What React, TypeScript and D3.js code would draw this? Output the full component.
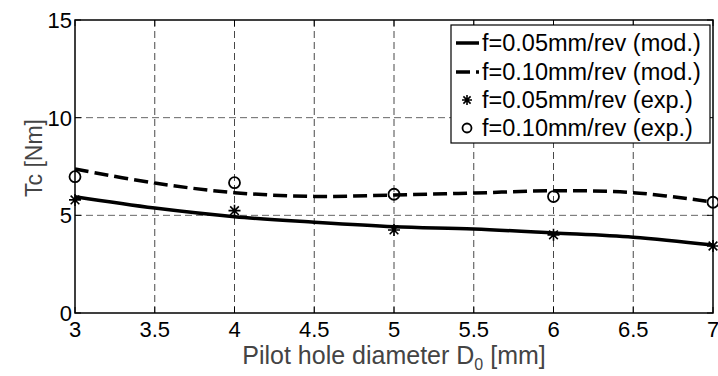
import React, { useEffect, useRef } from 'react';
import * as d3 from 'd3';

// pilot hole diameter (mm)
const modelX = [3, 3.5, 4, 4.5, 5, 5.5, 6, 6.5, 7];
const modF005 = [5.95, 5.37, 4.93, 4.65, 4.42, 4.3, 4.1, 3.88, 3.48];
const modF010 = [7.37, 6.65, 6.16, 5.97, 6.04, 6.14, 6.26, 6.16, 5.68];

const expX = [3, 4, 5, 6, 7];
const expF005 = [5.79, 5.24, 4.25, 4.0, 3.43];
const expF010 = [6.98, 6.67, 6.08, 5.96, 5.67];

const xTicks = [3, 3.5, 4, 4.5, 5, 5.5, 6, 6.5, 7];
const yTicks = [0, 5, 10, 15];

const legendLabels = [
  'f=0.05mm/rev (mod.)',
  'f=0.10mm/rev (mod.)',
  'f=0.05mm/rev (exp.)',
  'f=0.10mm/rev (exp.)',
];

const FONT = '"Liberation Sans", Arial, sans-serif';

const App = () => {
  const svgRef = useRef<SVGSVGElement | null>(null);

  useEffect(() => {
    const width = 718;
    const height = 376;
    const margin = { top: 20, right: 5, bottom: 63, left: 75 };

    const svg = d3.select(svgRef.current);
    svg.selectAll('*').remove();

    const x = d3.scaleLinear().domain([3, 7]).range([margin.left, width - margin.right]);
    const y = d3.scaleLinear().domain([0, 15]).range([height - margin.bottom, margin.top]);

    const g = svg.append('g');

    // grid
    g.selectAll('.vgrid')
      .data(xTicks.slice(1, -1))
      .enter()
      .append('line')
      .attr('x1', d => x(d))
      .attr('x2', d => x(d))
      .attr('y1', y(0))
      .attr('y2', y(15))
      .attr('stroke', '#333')
      .attr('stroke-width', 0.9)
      .attr('stroke-dasharray', '7,4');

    g.selectAll('.hgrid')
      .data(yTicks.slice(1, -1))
      .enter()
      .append('line')
      .attr('x1', x(3))
      .attr('x2', x(7))
      .attr('y1', d => y(d))
      .attr('y2', d => y(d))
      .attr('stroke', '#555')
      .attr('stroke-width', 0.9)
      .attr('stroke-dasharray', '7,4');

    // inner ticks
    xTicks.forEach(t => {
      g.append('line').attr('x1', x(t)).attr('x2', x(t)).attr('y1', y(0)).attr('y2', y(0) - 6)
        .attr('stroke', '#000').attr('stroke-width', 1);
      g.append('line').attr('x1', x(t)).attr('x2', x(t)).attr('y1', y(15)).attr('y2', y(15) + 6)
        .attr('stroke', '#000').attr('stroke-width', 1);
    });
    yTicks.forEach(t => {
      g.append('line').attr('x1', x(3)).attr('x2', x(3) + 6).attr('y1', y(t)).attr('y2', y(t))
        .attr('stroke', '#000').attr('stroke-width', 1);
      g.append('line').attr('x1', x(7)).attr('x2', x(7) - 6).attr('y1', y(t)).attr('y2', y(t))
        .attr('stroke', '#000').attr('stroke-width', 1);
    });

    // tick labels
    g.selectAll('.xt')
      .data(xTicks)
      .enter()
      .append('text')
      .attr('x', d => x(d))
      .attr('y', y(0) + 24)
      .attr('text-anchor', 'middle')
      .attr('font-family', FONT)
      .attr('font-size', 22)
      .attr('fill', '#000')
      .text(d => String(d));

    g.selectAll('.yt')
      .data(yTicks)
      .enter()
      .append('text')
      .attr('x', x(3) - 3)
      .attr('y', d => y(d) + 8)
      .attr('text-anchor', 'end')
      .attr('font-family', FONT)
      .attr('font-size', 22)
      .attr('fill', '#000')
      .text(d => String(d));

    // axis labels
    const xl = g.append('text')
      .attr('x', (x(3) + x(7)) / 2)
      .attr('y', 364)
      .attr('text-anchor', 'middle')
      .attr('font-family', FONT)
      .attr('font-size', 25)
      .attr('fill', '#444');
    xl.append('tspan').text('Pilot hole diameter D');
    xl.append('tspan').attr('font-size', 16).attr('dy', 6).text('0');
    xl.append('tspan').attr('dy', -6).text(' [mm]');

    g.append('text')
      .attr('transform', 'translate(42,158) rotate(-90)')
      .attr('text-anchor', 'middle')
      .attr('font-family', FONT)
      .attr('font-size', 23)
      .attr('fill', '#444')
      .text('Tc [Nm]');

    // model curves
    const line = d3.line<number>()
      .x((_, i) => x(modelX[i]))
      .y(d => y(d))
      .curve(d3.curveCatmullRom);

    g.append('path')
      .attr('d', line(modF005))
      .attr('fill', 'none')
      .attr('stroke', '#000')
      .attr('stroke-width', 3.5);

    g.append('path')
      .attr('d', line(modF010))
      .attr('fill', 'none')
      .attr('stroke', '#000')
      .attr('stroke-width', 3.5)
      .attr('stroke-dasharray', '14,6');

    const drawStar = (cx: number, cy: number, r: number) => {
      const a = r * 0.72;
      const p = `M${cx - r},${cy}L${cx + r},${cy}M${cx},${cy - r}L${cx},${cy + r}` +
        `M${cx - a},${cy - a}L${cx + a},${cy + a}M${cx - a},${cy + a}L${cx + a},${cy - a}`;
      g.append('path').attr('d', p).attr('stroke', '#000').attr('stroke-width', 1.6).attr('fill', 'none');
    };
    const drawCircle = (cx: number, cy: number, r: number) => {
      g.append('circle').attr('cx', cx).attr('cy', cy).attr('r', r)
        .attr('fill', 'none').attr('stroke', '#000').attr('stroke-width', 1.8);
    };

    expX.forEach((d, i) => drawStar(x(d), y(expF005[i]), 6));
    expX.forEach((d, i) => drawCircle(x(d), y(expF010[i]), 5.5));

    // axes box
    g.append('rect')
      .attr('x', x(3))
      .attr('y', y(15))
      .attr('width', x(7) - x(3))
      .attr('height', y(0) - y(15))
      .attr('fill', 'none')
      .attr('stroke', '#000')
      .attr('stroke-width', 1.5);

    // legend
    const lg = g.append('g');
    lg.append('rect')
      .attr('x', 451)
      .attr('y', 25)
      .attr('width', 259)
      .attr('height', 118)
      .attr('fill', '#fff')
      .attr('stroke', '#000')
      .attr('stroke-width', 1.2);

    const rows = [43, 72, 100, 128];
    lg.append('line').attr('x1', 456).attr('x2', 479).attr('y1', rows[0]).attr('y2', rows[0])
      .attr('stroke', '#000').attr('stroke-width', 3.5);
    lg.append('line').attr('x1', 456).attr('x2', 479).attr('y1', rows[1]).attr('y2', rows[1])
      .attr('stroke', '#000').attr('stroke-width', 3.5).attr('stroke-dasharray', '14,6');
    drawStar(467, rows[2], 5);
    drawCircle(467, rows[3], 4.5);

    legendLabels.forEach((t, i) => {
      lg.append('text')
        .attr('x', 482)
        .attr('y', rows[i] + 8)
        .attr('font-family', FONT)
        .attr('font-size', 23.5)
        .attr('fill', '#000')
        .text(t);
    });
  }, []);

  return (
    <div style={{ position: 'absolute', left: 0, top: 0, background: '#fff' }}>
      <svg ref={svgRef} width={718} height={376} style={{ display: 'block' }} />
    </div>
  );
};

export default App;
